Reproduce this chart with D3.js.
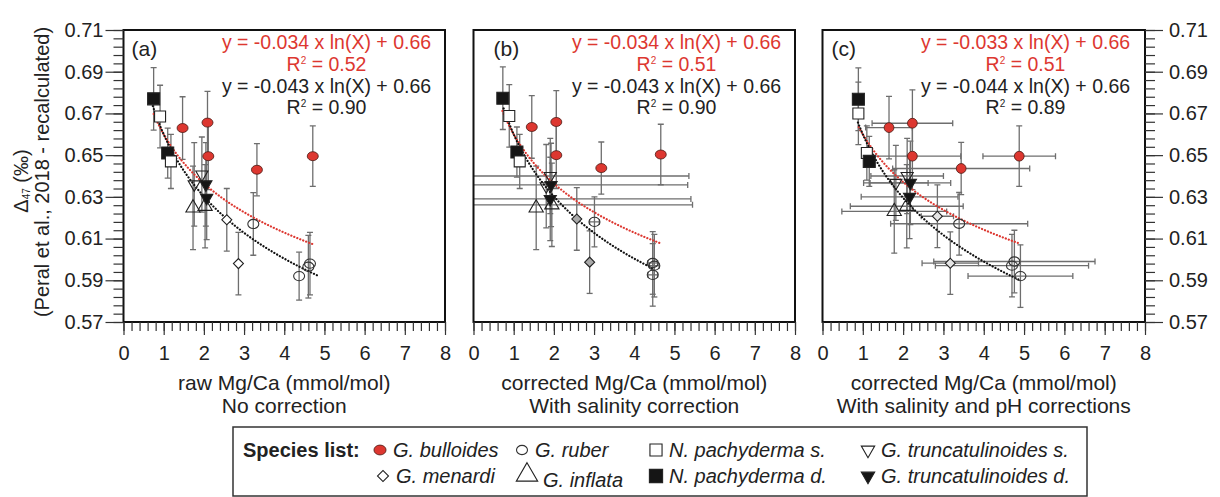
<!DOCTYPE html>
<html>
<head>
<meta charset="utf-8">
<script src="https://cdn.jsdelivr.net/npm/d3@7"></script>
<style>
  body { margin: 0; background: #fff; }
  text { font-family: "Liberation Sans", Arial, sans-serif; fill: #222; }
</style>
</head>
<body>
<svg id="chart" width="1220" height="497"></svg>
<script>
// ---- data ----
const yTicks = [0.57, 0.59, 0.61, 0.63, 0.65, 0.67, 0.69, 0.71];
const xTicks = [0, 1, 2, 3, 4, 5, 6, 7, 8];
const panelLabels = ['(a)', '(b)', '(c)'];
const xTitles = [
  ['raw Mg/Ca (mmol/mol)', 'No correction'],
  ['corrected Mg/Ca (mmol/mol)', 'With salinity correction'],
  ['corrected Mg/Ca (mmol/mol)', 'With salinity and pH corrections']
];
const redSlopes = [-0.034, -0.034, -0.033];
const redR2 = ['0.52', '0.51', '0.51'];
const blackSlopes = [-0.043, -0.043, -0.044];
const blackR2 = ['0.90', '0.90', '0.89'];
const intercept = 0.66;
const redRange = [[0.75, 4.7], [0.72, 4.66], [0.9, 4.88]];
const blackRange = [[0.73, 4.85], [0.75, 4.45], [0.88, 4.91]];

// [species, Mg/Ca, D47, D47 error, Mg/Ca error]
const pointsA = [
  ['npd', 0.75, 0.677, 0.015, 0], ['nps', 0.91, 0.6685, 0.015, 0],
  ['npd', 1.10, 0.651, 0.012, 0], ['nps', 1.18, 0.647, 0.013, 0],
  ['bul', 1.47, 0.663, 0.015, 0], ['bul', 2.09, 0.6656, 0.015, 0],
  ['bul', 2.11, 0.6495, 0.016, 0], ['bul', 3.32, 0.643, 0.0125, 0],
  ['bul', 4.71, 0.6495, 0.0145, 0],
  ['tts', 1.95, 0.6407, 0.018, 0], ['tts', 1.76, 0.636, 0.02, 0],
  ['inf', 1.73, 0.6247, 0.02, 0], ['inf', 2.03, 0.6255, 0.02, 0],
  ['ttd', 2.05, 0.636, 0.02, 0], ['ttd', 2.07, 0.6295, 0.02, 0],
  ['men', 2.57, 0.619, 0.015, 0], ['men', 2.86, 0.598, 0.015, 0],
  ['rub', 3.23, 0.617, 0.015, 0], ['rub', 4.37, 0.592, 0.0115, 0],
  ['rub', 4.64, 0.598, 0.015, 0], ['rub', 4.60, 0.5965, 0.015, 0]
];
const pointsB = [
  ['npd', 0.73, 0.6773, 0.015, 0], ['nps', 0.89, 0.6688, 0.015, 0],
  ['npd', 1.08, 0.6515, 0.012, 0], ['nps', 1.15, 0.647, 0.013, 0],
  ['bul', 1.45, 0.6635, 0.015, 0], ['bul', 2.06, 0.6659, 0.015, 0],
  ['bul', 2.06, 0.650, 0.016, 0], ['bul', 3.18, 0.6438, 0.0125, 0],
  ['bul', 4.66, 0.6503, 0.0145, 0],
  ['tts', 1.91, 0.640, 0.018, 3.45], ['tts', 1.81, 0.6351, 0.02, 0],
  ['inf', 1.56, 0.6247, 0.02, 0], ['inf', 1.95, 0.6262, 0.02, 3.5],
  ['ttd', 1.93, 0.6357, 0.02, 3.4], ['ttd', 1.91, 0.629, 0.02, 3.5],
  ['men', 2.57, 0.6194, 0.015, 0], ['men', 2.89, 0.5987, 0.015, 0],
  ['rub', 3.01, 0.618, 0.012, 0.12], ['rub', 4.46, 0.5983, 0.015, 0.12],
  ['rub', 4.46, 0.5926, 0.015, 0.12], ['rub', 4.50, 0.597, 0.015, 0.12]
];
const pointsC = [
  ['npd', 0.89, 0.6768, 0.015, 0], ['nps', 0.89, 0.670, 0.015, 0],
  ['nps', 1.10, 0.651, 0.013, 0.08], ['npd', 1.16, 0.647, 0.012, 0.08],
  ['bul', 1.65, 0.6632, 0.015, 0.58], ['bul', 2.23, 0.6653, 0.016, 1.0],
  ['bul', 2.23, 0.6495, 0.016, 1.2], ['bul', 3.44, 0.6436, 0.0125, 1.7],
  ['bul', 4.88, 0.6495, 0.0145, 0.9],
  ['tts', 1.82, 0.6367, 0.018, 0.8], ['tts', 2.10, 0.640, 0.018, 0.9],
  ['inf', 1.78, 0.623, 0.02, 1.3], ['inf', 2.09, 0.6255, 0.02, 1.4],
  ['ttd', 2.18, 0.6367, 0.02, 1.0], ['ttd', 2.16, 0.630, 0.02, 1.2],
  ['men', 2.85, 0.6207, 0.015, 0.4], ['men', 3.17, 0.5982, 0.015, 0.7],
  ['rub', 3.39, 0.6171, 0.015, 1.7], ['rub', 4.76, 0.599, 0.015, 2.0],
  ['rub', 4.70, 0.597, 0.015, 1.9], ['rub', 4.91, 0.592, 0.015, 1.3]
];
const panelPoints = [pointsA, pointsB, pointsC];

const legendRow1 = [['bul', 'G. bulloides'], ['rub', 'G. ruber'], ['nps', 'N. pachyderma s.'], ['tts', 'G. truncatulinoides s.']];
const legendRow2 = [['men', 'G. menardi'], ['inf', 'G. inflata'], ['npd', 'N. pachyderma d.'], ['ttd', 'G. truncatulinoides d.']];

// ---- layout ----
const svg = d3.select('#chart');
const plotTop = 30, plotBottom = 322;
const frames = [[123.5, 445], [473.5, 795], [822.5, 1145]];
const labelOffsets = [8, 20, 9];
const menFill = ['#fff', '#a9a9a9', '#e4e4e4'];
const bulShape = [[5.5, 4.5], [5.5, 4.5], [4.9, 4.9]];
const RED = '#dd3730';
const BAR = '#6e6e6e';

function marker(g, sp, cx, cy, pi, scale) {
  const k = scale || 1;
  if (sp === 'bul') {
    g.append('ellipse').attr('cx', cx).attr('cy', cy)
      .attr('rx', bulShape[pi][0] * k).attr('ry', bulShape[pi][1] * k)
      .attr('fill', RED).attr('stroke', '#4a1a14').attr('stroke-width', 0.8);
  } else if (sp === 'rub') {
    g.append('ellipse').attr('cx', cx).attr('cy', cy).attr('rx', 5.5 * k).attr('ry', 4.6 * k)
      .attr('fill', 'none').attr('stroke', '#333').attr('stroke-width', 1.1);
  } else {
    let type = d3.symbolSquare, size = 121, rot = 0, fill = 'none';
    if (sp === 'npd') { size = 144; fill = '#151515'; }
    if (sp === 'nps') { size = 121; fill = '#fff'; }
    if (sp === 'men') { size = 50; rot = 45; fill = menFill[pi]; }
    if (sp === 'inf') { type = d3.symbolTriangle; size = 88; }
    if (sp === 'tts') { type = d3.symbolTriangle; size = 64; rot = 180; }
    if (sp === 'ttd') { type = d3.symbolTriangle; size = 64; rot = 180; fill = '#151515'; }
    g.append('path')
      .attr('d', d3.symbol().type(type).size(size * k * k)())
      .attr('transform', `translate(${cx},${cy}) rotate(${rot})`)
      .attr('fill', fill).attr('stroke', '#222').attr('stroke-width', 1.1);
  }
}

frames.forEach(([x0, x1], pi) => {
  const x = d3.scaleLinear().domain([0, 8]).range([x0, x1]);
  const y = d3.scaleLinear().domain([0.57, 0.71]).range([plotBottom, plotTop]);
  const g = svg.append('g');

  svg.append('clipPath').attr('id', 'clip' + pi)
    .append('rect').attr('x', x0).attr('y', plotTop).attr('width', x1 - x0).attr('height', plotBottom - plotTop);
  const inner = g.append('g').attr('clip-path', `url(#clip${pi})`);

  // error bars
  const pts = panelPoints[pi];
  const bars = inner.append('g').attr('stroke', BAR).attr('stroke-width', 1.3).attr('fill', 'none');
  pts.forEach(([sp, mx, d, ed, em]) => {
    const cx = x(mx), cy = y(d);
    bars.append('line').attr('x1', cx).attr('x2', cx).attr('y1', y(d - ed)).attr('y2', y(d + ed));
    [d - ed, d + ed].forEach(v => bars.append('line').attr('x1', cx - 3).attr('x2', cx + 3).attr('y1', y(v)).attr('y2', y(v)));
    if (em > 0) {
      bars.append('line').attr('x1', x(mx - em)).attr('x2', x(mx + em)).attr('y1', cy).attr('y2', cy);
      [mx - em, mx + em].forEach(v => bars.append('line').attr('x1', x(v)).attr('x2', x(v)).attr('y1', cy - 3).attr('y2', cy + 3));
    }
  });

  // fit curves
  const fit = (slope, range) => d3.range(0, 81).map(i => {
    const v = range[0] + (range[1] - range[0]) * i / 80;
    return [v, slope * Math.log(v) + intercept];
  });
  const line = d3.line().x(d => x(d[0])).y(d => y(d[1]));
  inner.append('path').attr('d', line(fit(redSlopes[pi], redRange[pi])))
    .attr('fill', 'none').attr('stroke', RED).attr('stroke-width', 2.2)
    .attr('stroke-linecap', 'round').attr('stroke-dasharray', '0.1 3.1');
  inner.append('path').attr('d', line(fit(blackSlopes[pi], blackRange[pi])))
    .attr('fill', 'none').attr('stroke', '#111').attr('stroke-width', 2.2)
    .attr('stroke-linecap', 'round').attr('stroke-dasharray', '0.1 3.1');

  // markers
  const mk = inner.append('g');
  pts.forEach(([sp, mx, d]) => marker(mk, sp, x(mx), y(d), pi));

  // frame
  g.append('rect').attr('x', x0).attr('y', plotTop).attr('width', x1 - x0).attr('height', plotBottom - plotTop)
    .attr('fill', 'none').attr('stroke', '#111').attr('stroke-width', 2);

  // x axis
  const xMinor = g.append('g').attr('transform', `translate(0,${plotBottom})`)
    .call(d3.axisBottom(x).tickValues(d3.range(0, 41).map(i => i * 0.2)).tickSize(9).tickFormat(''));
  const xMajor = g.append('g').attr('transform', `translate(0,${plotBottom})`)
    .call(d3.axisBottom(x).tickValues(xTicks).tickSize(13).tickPadding(11).tickFormat(d3.format('d')));
  [xMinor, xMajor].forEach(a => {
    a.select('.domain').remove();
    a.selectAll('line').attr('stroke', '#333').attr('stroke-width', 1.2);
  });
  xMajor.selectAll('text').attr('font-size', 20).attr('fill', '#222')
    .style('font-family', '"Liberation Sans", Arial, sans-serif');

  // y axis (left on (a), right on (c))
  if (pi === 0 || pi === 2) {
    const left = pi === 0;
    const ax = left ? d3.axisLeft : d3.axisRight;
    const tx = left ? x0 : x1;
    const yMinor = g.append('g').attr('transform', `translate(${tx},0)`)
      .call(ax(y).tickValues(d3.range(0, 36).map(i => 0.57 + i * 0.004)).tickSize(10).tickFormat(''));
    const yMajor = g.append('g').attr('transform', `translate(${tx},0)`)
      .call(ax(y).tickValues(yTicks).tickSize(18).tickPadding(left ? 2 : 6).tickFormat(d3.format('.2f')));
    [yMinor, yMajor].forEach(a => {
      a.select('.domain').remove();
      a.selectAll('line').attr('stroke', '#333').attr('stroke-width', 1.2);
    });
    yMajor.selectAll('text').attr('font-size', 20).attr('fill', '#222')
      .style('font-family', '"Liberation Sans", Arial, sans-serif');
  }

  // x titles
  const cxm = (x0 + x1) / 2;
  xTitles[pi].forEach((t, i) => {
    g.append('text').attr('x', cxm).attr('y', 390 + i * 23).attr('text-anchor', 'middle')
      .attr('font-size', 21).text(t);
  });

  // panel label
  g.append('text').attr('x', x0 + labelOffsets[pi]).attr('y', 56).attr('font-size', 21).text(panelLabels[pi]);

  // equations
  const ex = x0 + 203;
  const eq = (yy, txt, col) => g.append('text').attr('x', ex).attr('y', yy).attr('text-anchor', 'middle')
    .attr('font-size', 19.5).style('fill', col).text(txt);
  const r2 = (yy, val, col) => {
    const t = g.append('text').attr('x', ex).attr('y', yy).attr('text-anchor', 'middle')
      .attr('font-size', 19.5).style('fill', col);
    t.append('tspan').text('R');
    t.append('tspan').attr('dy', -7).attr('font-size', 10).text('2');
    t.append('tspan').attr('dy', 7).text(' = ' + val);
  };
  eq(48.5, `y = ${redSlopes[pi].toFixed(3)} x ln(X) + ${intercept.toFixed(2)}`, RED);
  r2(71, redR2[pi], RED);
  eq(92.5, `y = ${blackSlopes[pi].toFixed(3)} x ln(X) + ${intercept.toFixed(2)}`, '#222');
  r2(114, blackR2[pi], '#222');
});

// y title
const yt1 = svg.append('text').attr('transform', 'translate(28,181) rotate(-90)')
  .attr('text-anchor', 'middle').attr('font-size', 20);
yt1.append('tspan').text('\u0394');
yt1.append('tspan').attr('dy', 2).attr('font-size', 10).text('47');
yt1.append('tspan').attr('dy', -2).text(' (\u2030)');
svg.append('text').attr('transform', 'translate(49,172) rotate(-90)')
  .attr('text-anchor', 'middle').attr('font-size', 20).text('(Peral et al., 2018 - recalculated)');

// legend
const lg = svg.append('g');
lg.append('rect').attr('x', 233).attr('y', 427).attr('width', 854).attr('height', 69)
  .attr('fill', '#fff').attr('stroke', '#333').attr('stroke-width', 1.5);
lg.append('text').attr('x', 243).attr('y', 457).attr('font-size', 20).attr('font-weight', 'bold').text('Species list:');
const colSym = [380, 522, 656, 868];
[legendRow1, legendRow2].forEach((row, ri) => {
  const by = 457 + ri * 26;
  row.forEach(([sp, name], ci) => {
    const sx = colSym[ci] + (ri === 1 && ci === 0 ? 3 : 0) + (ri === 1 && ci === 1 ? 5 : 0);
    const k = sp === 'inf' ? 1.5 : (sp === 'rub' ? 1.0 : 1.1);
    marker(lg, sp, sx, by - 7 + (sp === 'inf' ? -1 : 0), 0, k);
    lg.append('text').attr('x', sx + 13 + (sp === 'inf' ? 3 : 0)).attr('y', by + (sp === 'inf' ? 4 : 0))
      .attr('font-size', 20).attr('font-style', 'italic').text(name);
  });
});
</script>
</body>
</html>
